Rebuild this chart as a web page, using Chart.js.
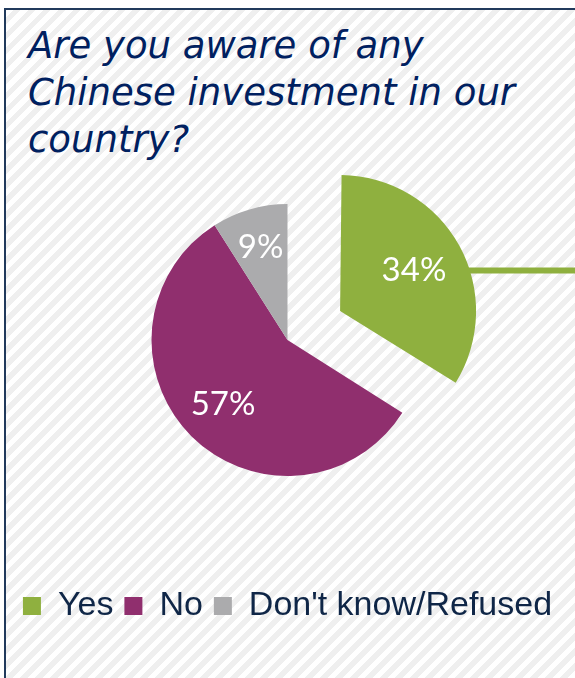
<!DOCTYPE html>
<html>
<head>
<meta charset="utf-8">
<script src="https://cdn.jsdelivr.net/npm/chart.js@4.4.1/dist/chart.umd.min.js"></script>
<style>
  html, body { margin: 0; padding: 0; background: #fff; overflow: hidden; }
  body { width: 575px; height: 678px; position: relative; }
  .frame {
    position: absolute; left: 4px; top: 8px; width: 640px; height: 740px;
    border-top: 2px solid #213a5c; border-left: 2px solid #213a5c;
    background: repeating-linear-gradient(135deg, #ffffff 0px, #ffffff 5px, #efefef 5px, #efefef 10.6px);
  }
  .title {
    position: absolute; left: 28px; top: 22px; margin: 0;
    font: italic 37px/47px "DejaVu Sans", sans-serif; color: #002060;
    white-space: nowrap;
  }
  #awarePie { position: absolute; left: 0; top: 0; }
</style>
</head>
<body>
<div class="frame"></div>
<div class="title">Are you aware of any<br>Chinese investment in our<br>country?</div>
<canvas id="awarePie" width="575" height="678"></canvas>
<script>
const categories = ['Yes', 'No', "Don't know/Refused"];
const shares = [34, 57, 9];
const sliceColors = ['#8fb03f', '#902f6e', '#ababad'];

// how far out (fraction of radius) each % label sits
const labelDepth = [0.62, 0.67, 0.71];

// the arc element grows an exploded slice by offset/4 * fix; take that back
function growth(arc) {
    const o = (arc.options.offset || 0) / 4;
    const fix = 1 - Math.sin(Math.min(Math.PI, arc.circumference || 0));
    return o * fix;
}

const keepRadius = {
    id: 'keepRadius',
    afterDatasetUpdate(chart, args) {
        args.meta.data.forEach(arc => {
            if (arc.options.offset) arc.outerRadius -= growth(arc);
        });
    }
};

const sliceLabels = {
    id: 'sliceLabels',
    afterDatasetsDraw(chart) {
        const ctx = chart.ctx;
        const meta = chart.getDatasetMeta(0);
        ctx.save();
        meta.data.forEach((arc, i) => {
            const p = arc.getProps(['x', 'y', 'startAngle', 'endAngle', 'outerRadius'], true);
            const mid = (p.startAngle + p.endAngle) / 2;
            const shift = (arc.options.offset || 0) / 4;
            const r = p.outerRadius + growth(arc);
            const cx = p.x + Math.cos(mid) * shift;
            const cy = p.y + Math.sin(mid) * shift;
            const lx = cx + Math.cos(mid) * r * labelDepth[i];
            const ly = cy + Math.sin(mid) * r * labelDepth[i];

            if (i === 0) {
                const edgeX = cx + Math.sqrt(r * r - (ly - cy) * (ly - cy));
                ctx.strokeStyle = sliceColors[0];
                ctx.lineWidth = 6;
                ctx.beginPath();
                ctx.moveTo(edgeX - 2, ly);
                ctx.lineTo(chart.width, ly);
                ctx.stroke();
            }

            ctx.fillStyle = '#ffffff';
            ctx.font = "33px Lato, sans-serif";
            ctx.textAlign = 'center';
            ctx.textBaseline = 'middle';
            ctx.fillText(shares[i] + '%', lx, ly);
        });
        ctx.restore();
    }
};

new Chart(document.getElementById('awarePie'), {
    type: 'pie',
    data: {
        labels: categories,
        datasets: [{
            data: shares,
            backgroundColor: sliceColors,
            borderWidth: 0,
            offset: [240, 0, 0],
            radius: 136,
            clip: false
        }]
    },
    options: {
        responsive: false,
        animation: false,
        layout: { padding: { left: 7, right: 7, top: 102, bottom: 45 } },
        plugins: {
            tooltip: { enabled: false },
            legend: {
                position: 'bottom',
                align: 'center',
                labels: {
                    boxWidth: 18,
                    boxHeight: 18,
                    padding: 11,
                    color: '#0f2647',
                    font: { family: "'Liberation Sans', Arial, sans-serif", size: 34 }
                }
            }
        }
    },
    plugins: [keepRadius, sliceLabels]
});
</script>
</body>
</html>
